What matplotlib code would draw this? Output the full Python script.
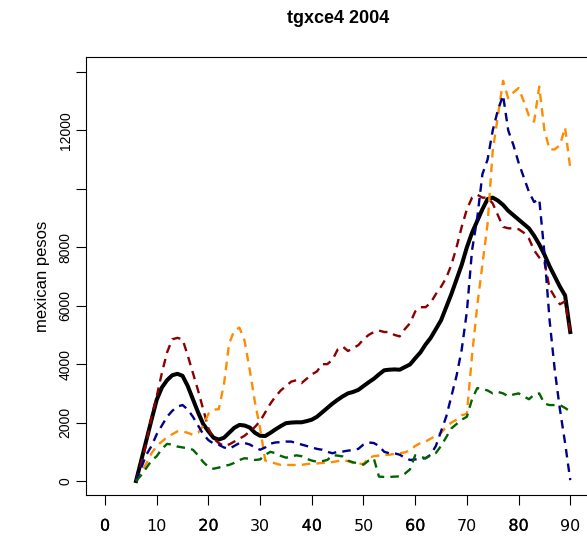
"""
Age profiles of tgxce4 (2004), R base-graphics look.
"""

import numpy as np
import matplotlib.pyplot as plt
import matplotlib.patheffects as pe

plt.rcParams["font.family"] = ["Liberation Sans", "DejaVu Sans"]

ages = np.arange(6, 91)

# smoothed total (black, solid)
total = [0, 700, 1400, 2100, 2780, 3200, 3450, 3620, 3670, 3600,
         3250, 2800, 2350, 1950, 1700, 1480, 1420, 1480, 1650, 1820,
         1920, 1900, 1830, 1650, 1550, 1540, 1650, 1770, 1880, 1980,
         2000, 2010, 2010, 2050, 2100, 2200, 2350, 2500, 2650, 2780,
         2900, 3000, 3050, 3120, 3250, 3380, 3500, 3650, 3790, 3810,
         3820, 3810, 3900, 3990, 4200, 4400, 4670, 4900, 5200, 5500,
         5950, 6400, 6900, 7400, 8000, 8500, 8900, 9300, 9650, 9700,
         9600, 9450, 9250, 9100, 8950, 8800, 8650, 8400, 8100, 7750,
         7350, 7000, 6650, 6350, 5100]

# dark red dashed
red = [0, 600, 1300, 2200, 2900, 3700, 4400, 4850, 4900, 4850,
       4300, 3700, 3100, 2450, 1800, 1450, 1300, 1200, 1250, 1350,
       1450, 1550, 1700, 1850, 2050, 2350, 2650, 2900, 3100, 3250,
       3400, 3450, 3350, 3500, 3650, 3750, 4000, 4000, 4150, 4500,
       4600, 4450, 4550, 4650, 4850, 5000, 5100, 5150, 5100, 5100,
       5000, 4950, 5200, 5400, 5800, 5950, 5950, 6100, 6400, 6650,
       6950, 7400, 8000, 8700, 9300, 9700, 9800, 9700, 9700, 9500,
       9100, 8700, 8650, 8650, 8620, 8500, 8300, 7900, 7650, 7500,
       6600, 6300, 6050, 6150, 5100]

# orange dashed
orange = [0, 300, 600, 950, 1200, 1350, 1500, 1600, 1700, 1700,
          1650, 1580, 1650, 1900, 2300, 2440, 2460, 3300, 4700, 5150,
          5250, 4800, 3800, 2700, 1800, 700, 650, 600, 550, 550,
          550, 550, 550, 580, 600, 600, 620, 620, 650, 680,
          720, 680, 620, 600, 580, 800, 850, 870, 890, 900,
          930, 950, 980, 1050, 1200, 1300, 1350, 1450, 1550, 1650,
          1850, 2000, 2100, 2250, 2300, 4300, 6000, 7400, 8800, 11300,
          12500, 13700, 13100, 13300, 13450, 13000, 12500, 12300, 13500, 12000,
          11350, 11350, 11500, 12100, 10700]

# dark blue dashed
blue = [0, 450, 900, 1200, 1600, 1900, 2200, 2400, 2550, 2600,
        2450, 2200, 1900, 1600, 1400, 1280, 1240, 1150, 1100, 1200,
        1300, 1300, 1250, 1150, 1070, 1150, 1280, 1320, 1330, 1350,
        1350, 1300, 1250, 1200, 1150, 1100, 1070, 1000, 950, 1000,
        1010, 1040, 1060, 1100, 1250, 1320, 1300, 1200, 1000, 950,
        950, 900, 800, 720, 740, 760, 780, 900, 1200, 1700,
        2200, 2900, 3600, 4500, 5800, 7900, 9000, 10500, 11000, 12000,
        12700, 13200, 12000, 11500, 10900, 10400, 9900, 9550, 9650, 7800,
        5500, 3800, 2450, 1300, 30]

# dark green dashed
green = [0, 200, 450, 700, 850, 1100, 1270, 1250, 1180, 1150,
         1120, 1070, 880, 650, 480, 420, 460, 520, 550, 620,
         720, 780, 760, 720, 740, 900, 1000, 950, 860, 800,
         830, 880, 850, 760, 700, 660, 680, 720, 880, 870,
         840, 700, 640, 600, 560, 700, 770, 150, 140, 140,
         150, 160, 250, 400, 880, 830, 780, 880, 960, 1200,
         1500, 1800, 1950, 2100, 2200, 2800, 3180, 3150, 3100, 3000,
         3050, 3000, 2900, 2960, 3000, 2900, 2800, 2950, 3000, 2650,
         2600, 2600, 2600, 2500, 2380]

x_ticks = np.arange(0, 91, 10)
y_ticks = np.arange(0, 14001, 2000)
y_labels = ["0", "2000", "4000", "6000", "8000", "", "12000", ""]

fig = plt.figure(figsize=(5.87, 5.38), dpi=100)
ax = fig.add_axes([0.1472, 0.0799, 0.856, 0.8145])

dash = (0, (3.6, 2.6))
ax.plot(ages, total, color="black", lw=2.9, zorder=2)
ax.plot(ages, red, color="#8B0000", lw=1.7, linestyle=dash, zorder=3)
ax.plot(ages, orange, color="#FF8C00", lw=1.7, linestyle=dash, zorder=3)
ax.plot(ages, blue, color="#00008B", lw=1.7, linestyle=dash, zorder=3)
ax.plot(ages, green, color="#006400", lw=1.7, linestyle=dash, zorder=3)

ax.set_xlim(-3.6, 93.6)
ax.set_ylim(-479, 14520)
ax.set_xticks(x_ticks)
ax.set_xticklabels([str(t) for t in x_ticks], family="DejaVu Sans", fontsize=11.5)
ax.set_yticks(y_ticks)
ax.set_yticklabels(y_labels, rotation=90, va="center", fontsize=10)
ax.tick_params(direction="out", length=7, width=0.8)
ax.tick_params(axis="x", pad=10)
ax.tick_params(axis="y", pad=3)
for s in ax.spines.values():
    s.set_linewidth(0.8)

# R drew the default axis (0, 20, ...) and then the full one on top,
# so every other label looks a little heavier
for lab in ax.get_xticklabels()[::2]:
    lab.set_path_effects([pe.withStroke(linewidth=0.15, foreground="black")])

ax.set_ylabel("mexican pesos", fontsize=12, labelpad=6)
ax.set_title("tgxce4 2004", fontsize=13, fontweight="bold", pad=24)

fig.savefig("out.png", dpi=100)
